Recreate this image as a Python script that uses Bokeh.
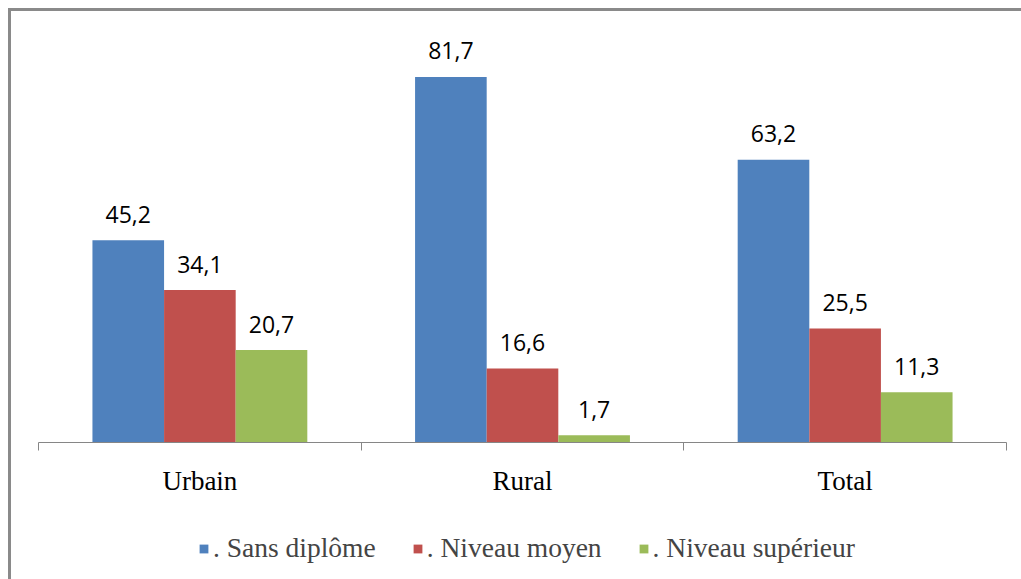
from bokeh.plotting import figure
from bokeh.models import FixedTicker, Legend, LegendItem, ColumnDataSource, Range1d
from bokeh.core.properties import value
from bokeh.embed import file_html
from bokeh.resources import INLINE

categories = ["Urbain", "Rural", "Total"]
series_names = [". Sans diplôme", ". Niveau moyen", ". Niveau supérieur"]
sans_diplome = [45.2, 81.7, 63.2]
niveau_moyen = [34.1, 16.6, 25.5]
niveau_superieur = [20.7, 1.7, 11.3]
colors = ["#4F81BD", "#C0504D", "#9BBB59"]

W, H = 1013, 571
p = figure(width=W, height=H, output_backend="svg", toolbar_location=None,
           x_range=Range1d(-0.0839, 3.056), y_range=Range1d(-31.2, 96.3),
           min_border=0)
p.styles = {"border-left": "3px solid #8a8a8a", "border-top": "3px solid #8a8a8a",
            "box-sizing": "border-box", "margin-left": "8px", "margin-top": "8px"}
p.outline_line_color = None
p.xgrid.visible = False
p.ygrid.visible = False
p.yaxis.visible = False
p.background_fill_color = "white"
p.border_fill_color = "white"

ax = p.xaxis[0]
ax.fixed_location = 0
ax.bounds = (0, 3)
centers = [i + 0.5 for i in range(len(categories))]
ax.ticker = FixedTicker(ticks=centers, minor_ticks=list(range(len(categories) + 1)))
ax.major_label_overrides = {c: name for c, name in zip(centers, categories)}
ax.major_tick_line_color = None
ax.minor_tick_line_color = "#868686"
ax.minor_tick_out = 8
ax.minor_tick_in = 0
ax.axis_line_color = "#868686"
ax.axis_line_width = 1
ax.major_label_standoff = 15
ax.major_label_text_font = "Liberation Serif"
ax.major_label_text_font_size = "27px"
ax.major_label_text_color = "#000000"

offsets = [-0.222, 0.0, 0.222]
bw = 0.222
items = []
for vals, off, col, name in zip([sans_diplome, niveau_moyen, niveau_superieur], offsets, colors, series_names):
    xs = [c + off for c in centers]
    src = ColumnDataSource(dict(x=xs, top=vals, lab=[f"{v:.1f}".replace(".", ",") for v in vals]))
    r = p.vbar(x="x", top="top", width=bw, bottom=0, source=src, fill_color=col, line_color=None)
    p.text(x="x", y="top", text="lab", source=src, text_align="center", text_baseline="alphabetic",
           y_offset=-26, text_font=value("Open Sans"), text_font_size="23px", text_color="#000000")
    items.append(LegendItem(label=name, renderers=[r]))

legend = Legend(items=items, orientation="horizontal", location=(187, 18),
                label_text_font="Liberation Serif", label_text_font_size="27.5px",
                glyph_width=11, glyph_height=11, label_standoff=4, spacing=36,
                padding=0, margin=0, border_line_color=None, background_fill_alpha=0)
p.add_layout(legend, "center")

open("out.html", "w").write(file_html(p, INLINE))
